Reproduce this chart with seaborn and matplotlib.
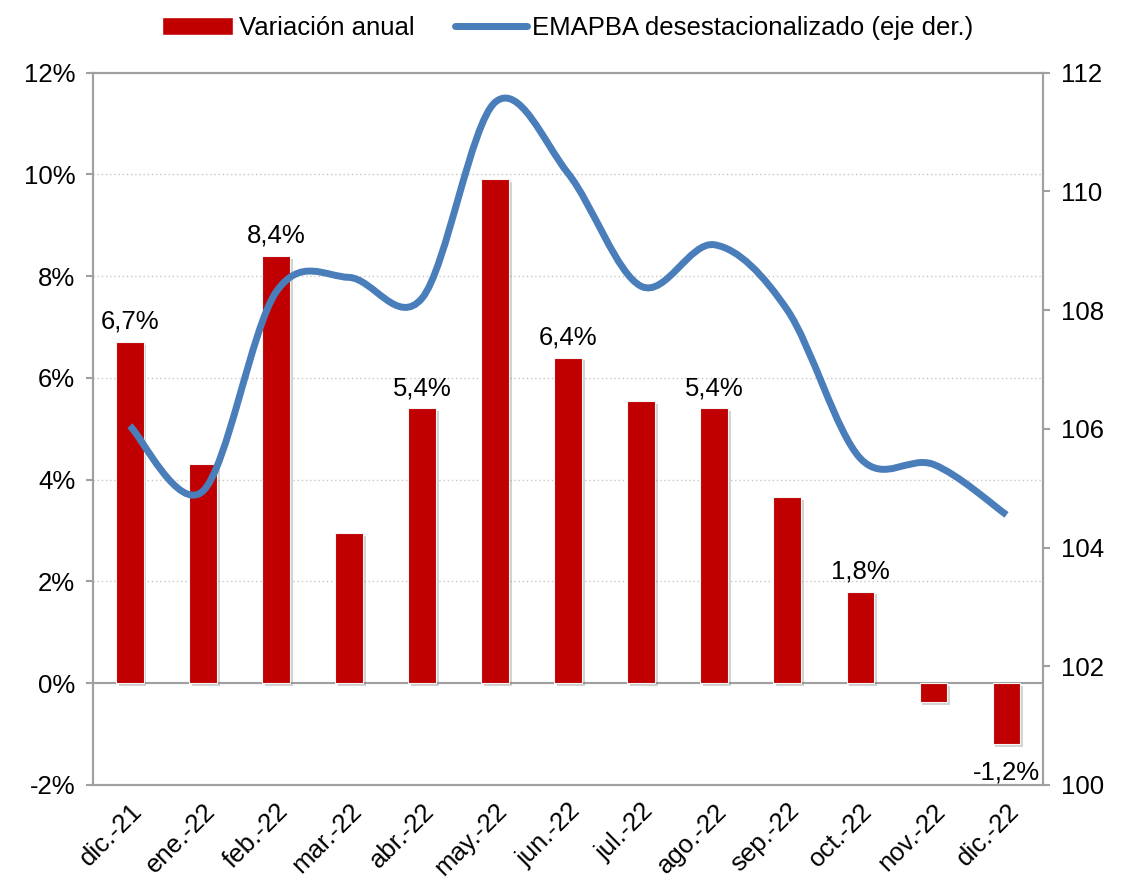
import numpy as np
import pandas as pd
import matplotlib.pyplot as plt
import seaborn as sns
from matplotlib import font_manager
from matplotlib.path import Path
from matplotlib.patches import PathPatch, Patch
from matplotlib.lines import Line2D
import matplotlib.patheffects as pe

# Datos
meses = ["dic.-21", "ene.-22", "feb.-22", "mar.-22", "abr.-22", "may.-22", "jun.-22",
         "jul.-22", "ago.-22", "sep.-22", "oct.-22", "nov.-22", "dic.-22"]
variacion_anual = [6.7, 4.3, 8.4, 2.95, 5.4, 9.9, 6.4, 5.55, 5.4, 3.65, 1.8, -0.37, -1.2]
emapba_desest = [106.05, 104.95, 108.3, 108.55, 108.2, 111.5, 110.3, 108.4, 109.1,
                 108.0, 105.5, 105.4, 104.55]
etiquetas = {0: "6,7%", 2: "8,4%", 4: "5,4%", 6: "6,4%", 8: "5,4%", 10: "1,8%", 12: "-1,2%"}

rojo = "#C00000"
azul = "#4A7EBB"
gris = "#A0A0A0"
fs = 18.5

# evitar que se elija la variante Narrow de Liberation Sans
font_manager.fontManager.ttflist = [f for f in font_manager.fontManager.ttflist
                                    if "narrow" not in f.fname.lower()]

sns.set_style("white")
plt.rcParams["font.family"] = ["Liberation Sans", "DejaVu Sans"]
plt.rcParams["font.size"] = fs
plt.rcParams["text.color"] = "black"
plt.rcParams["xtick.labelcolor"] = "black"
plt.rcParams["ytick.labelcolor"] = "black"

df = pd.DataFrame({"mes": meses, "var": variacion_anual})

fig, ax = plt.subplots(figsize=(11.24, 8.85), dpi=100)
fig.subplots_adjust(left=0.083, right=0.928, top=0.918, bottom=0.113)

sns.barplot(data=df, x="mes", y="var", color=rojo, width=0.38, saturation=1,
            ax=ax, zorder=3)
for bar in ax.patches:
    bar.set_path_effects([pe.SimplePatchShadow(offset=(2, -2), shadow_rgbFace="#707070", alpha=0.3),
                          pe.Normal()])
    bar.set_edgecolor("#F4F4F4")
    bar.set_linewidth(0.8)

ax.set_ylim(-2, 12)
ax.set_xlim(-0.5, len(meses) - 0.5)
ax.set_yticks(np.arange(-2, 13, 2))
ax.set_yticklabels([f"{v}%" for v in range(-2, 13, 2)])
ax.set_xlabel("")
ax.set_ylabel("")
ax.yaxis.grid(True, linestyle=(0, (1, 2)), color="#C8C8C8", linewidth=1)
ax.set_axisbelow(True)
ax.axhline(0, color=gris, linewidth=1.5, zorder=2)
for s in ["left", "right", "top", "bottom"]:
    ax.spines[s].set_color(gris)
    ax.spines[s].set_linewidth(1.5)
ax.tick_params(axis="y", which="major", length=5, width=1.5, color=gris, pad=8,
               labelsize=fs, labelcolor="black", left=True)
ax.tick_params(axis="x", length=0, pad=10, labelsize=fs, labelcolor="black")
plt.setp(ax.get_xticklabels(), rotation=45, ha="right", rotation_mode="anchor")

for i, txt in etiquetas.items():
    v = variacion_anual[i]
    if v >= 0:
        ax.annotate(txt, (i, v), xytext=(0, 6), textcoords="offset points",
                    ha="center", va="bottom", fontsize=fs, color="black")
    else:
        ax.annotate(txt, (i, v), xytext=(0, -12), textcoords="offset points",
                    ha="center", va="top", fontsize=fs, color="black")

# Eje derecho con línea suavizada (curva Bezier tipo Excel)
ax2 = ax.twinx()
ax2.set_ylim(100, 112)
ax2.set_yticks(np.arange(100, 113, 2))
ax2.tick_params(axis="y", length=5, width=1.5, color=gris, pad=8, labelsize=fs,
                labelcolor="black", right=True)
for s in ["left", "right", "top", "bottom"]:
    ax2.spines[s].set_color(gris)
    ax2.spines[s].set_linewidth(1.5)

x = np.arange(len(meses), dtype=float)
y = np.array(emapba_desest)
pts = np.column_stack([x, y])
verts = [tuple(pts[0])]
codes = [Path.MOVETO]
t = 1 / 6
for k in range(len(pts) - 1):
    p0 = pts[k - 1] if k > 0 else pts[k]
    p1 = pts[k]
    p2 = pts[k + 1]
    p3 = pts[k + 2] if k + 2 < len(pts) else pts[k + 1]
    c1 = p1 + (p2 - p0) * t
    c2 = p2 - (p3 - p1) * t
    verts += [tuple(c1), tuple(c2), tuple(p2)]
    codes += [Path.CURVE4] * 3
curva = PathPatch(Path(verts, codes), facecolor="none", edgecolor=azul, linewidth=5,
                  capstyle="butt", joinstyle="round", zorder=4)
ax2.add_patch(curva)

handles = [Patch(facecolor=rojo, edgecolor="white"),
           Line2D([0], [0], color=azul, linewidth=5)]
fig.legend(handles, ["Variación anual", "EMAPBA desestacionalizado (eje der.)"],
           loc="upper center", bbox_to_anchor=(0.505, 1.008), ncol=2, frameon=False,
           fontsize=fs, handlelength=2.8, handletextpad=0.2, columnspacing=1.6)

fig.savefig("out.png", dpi=100)
